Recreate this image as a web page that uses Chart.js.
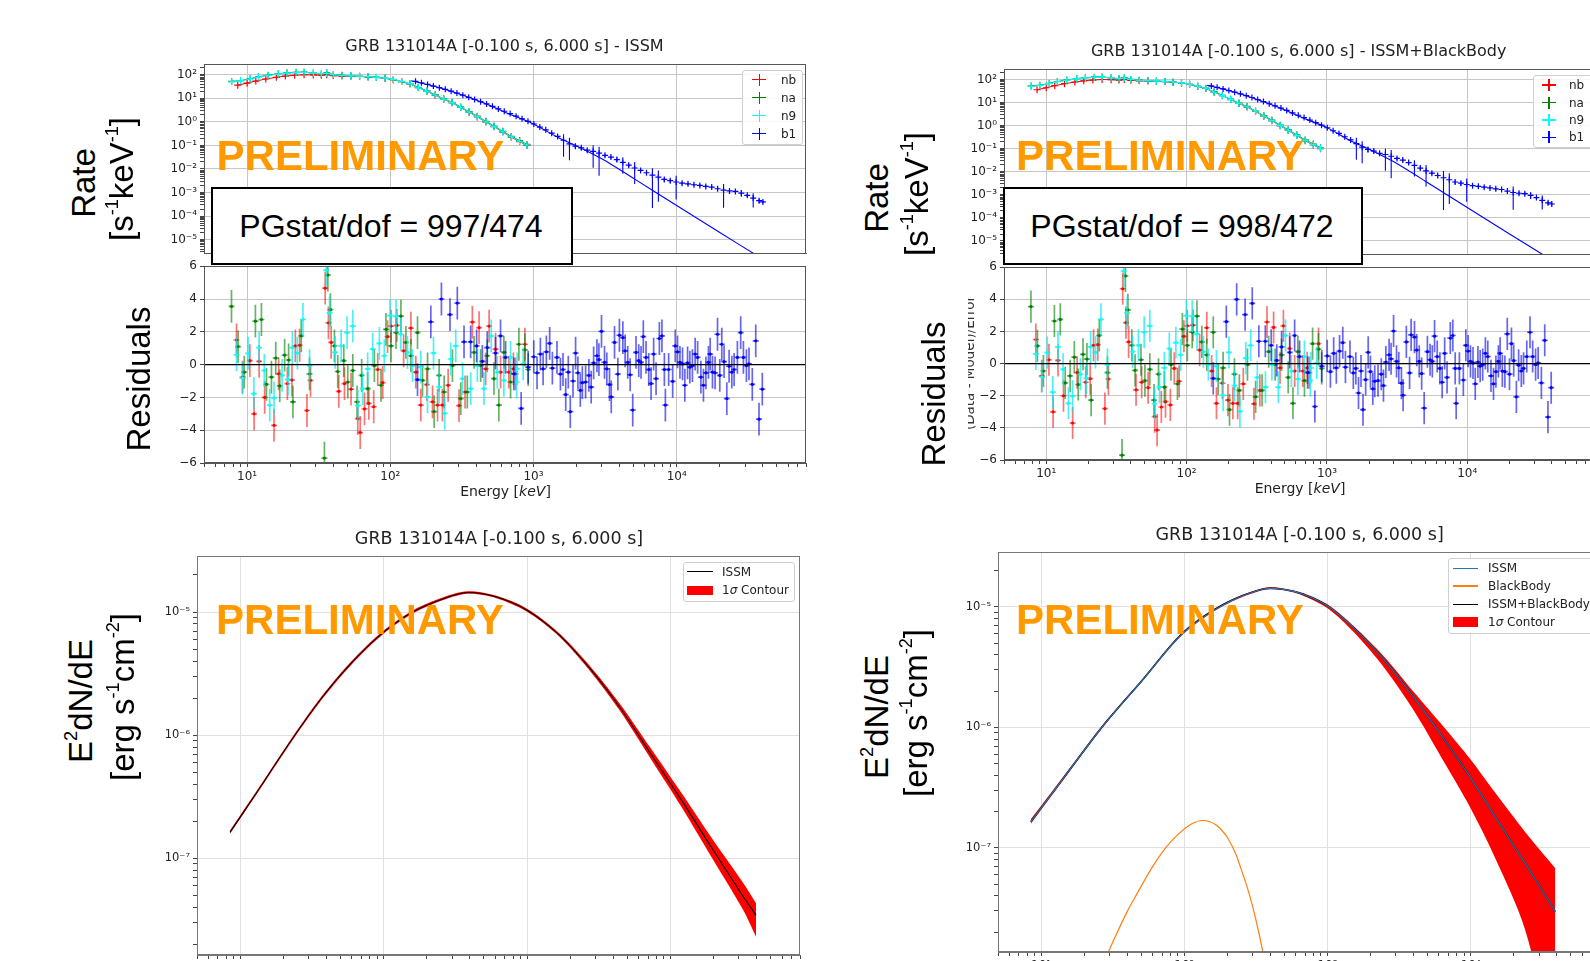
<!DOCTYPE html>
<html><head><meta charset="utf-8">
<script src="https://cdn.jsdelivr.net/npm/chart.js"></script>
<style>
html,body{margin:0;padding:0;width:1590px;height:961px;overflow:hidden;background:#fff;position:relative;}
.lbl{position:absolute;white-space:nowrap;line-height:1;color:#000;}
.lbl sup{font-size:0.55em;position:relative;top:-0.8em;vertical-align:baseline;line-height:0;}
.box{position:absolute;box-sizing:border-box;}
</style></head><body>
<script>
// ---------------- DATA ----------------
const energyRange = [5, 80000];
const energyTicks = [10, 100, 1000, 10000];
const energyTickLabels = ['10¹', '10²', '10³', '10⁴'];
const rateRange = [2.51e-6, 280];
const rateTicks = [1e-5, 1e-4, 1e-3, 1e-2, 1e-1, 1, 10, 100];
const rateTickLabels = ['10⁻⁵', '10⁻⁴', '10⁻³', '10⁻²', '10⁻¹', '10⁰', '10¹', '10²'];
const residTicks = [-6, -4, -2, 0, 2, 4, 6];
const residTickLabels = ['−6', '−4', '−2', '0', '2', '4', '6'];
const residErr = 1;
const fluxTicks = [1e-7, 1e-6, 1e-5];
const fluxTickLabels = ['10⁻⁷', '10⁻⁶', '10⁻⁵'];
const fluxRangeL = [1.64e-8, 2.85e-5];
const fluxRangeR = [1.37e-8, 2.86e-5];

// count rates (NaI detectors)
const naiE = [7.8, 9, 10.5, 12, 14, 16.5, 19, 22, 25, 29, 33, 36, 40, 46, 53, 61, 70, 80, 92, 105, 120, 137, 157, 180, 206, 236, 270, 310, 355, 405, 465, 530, 610, 700, 800, 900];
const n9Rate = [50, 55, 66, 80, 93, 107, 117, 123, 126, 117, 110, 115, 100, 93, 89, 87, 83, 78, 72, 63, 52, 42, 28, 20, 13.8, 9.3, 6.6, 4.2, 2.6, 1.66, 1.0, 0.63, 0.38, 0.23, 0.15, 0.105];
const naRate = [52, 56, 68, 82, 95, 110, 120, 126, 128, 118, 108, 120, 101, 94, 90, 86, 82, 77, 71, 62, 51, 41, 29, 20.5, 14, 9.5, 6.8, 4.3, 2.7, 1.75, 1.05, 0.66, 0.4, 0.24, 0.16, 0.11];
const nbE = [8.6, 10, 11.5, 13.5, 16, 18.5, 21.5, 25, 29, 33, 36, 40, 46, 53, 61, 70, 80, 92, 105, 120, 137, 157, 180, 206, 236, 270, 310, 355, 405, 465, 530, 610, 700, 800, 900];
const nbRate = [36, 44, 54, 66, 78, 88, 95, 100, 98, 95, 100, 92, 88, 86, 84, 81, 77, 71, 62, 51, 41, 28.5, 20, 13.5, 9.1, 6.4, 4.1, 2.55, 1.62, 0.98, 0.62, 0.37, 0.22, 0.145, 0.1];
// count rates (BGO b1)
const b1E = [150, 165, 182, 200, 220, 242, 266, 292, 321, 353, 388, 427, 470, 517, 568, 625, 687, 756, 832, 915, 1006, 1107, 1218, 1340, 1474, 1621, 1783, 1961, 2157, 2373, 2610, 2871, 3158, 3474, 3822, 4204, 4624, 5087, 5596, 6155, 6771, 7448, 8193, 9012, 9913, 10905, 11995, 13195, 14514, 15966, 17562, 19318, 21250, 23375, 25713, 28284, 31112, 34224, 37646, 40000];
const b1Rate = [52.5, 45.7, 38.9, 33.1, 28.2, 24.0, 20.0, 16.6, 13.5, 11.0, 8.9, 7.2, 5.75, 4.57, 3.55, 2.82, 2.24, 1.74, 1.35, 1.05, 0.81, 0.60, 0.46, 0.33, 0.24, 0.166, 0.117, 0.093, 0.079, 0.063, 0.056, 0.047, 0.038, 0.032, 0.025, 0.019, 0.0145, 0.011, 0.0087, 0.0069, 0.0055, 0.0045, 0.0036, 0.0032, 0.0028, 0.0025, 0.00234, 0.00214, 0.0020, 0.00182, 0.0017, 0.00145, 0.00126, 0.00117, 0.00112, 0.00095, 0.00076, 0.00058, 0.00045, 0.0004];
const b1RelErr = [0.03, 0.03, 0.03, 0.03, 0.03, 0.03, 0.03, 0.03, 0.03, 0.03, 0.04, 0.04, 0.04, 0.04, 0.04, 0.05, 0.05, 0.05, 0.06, 0.06, 0.07, 0.08, 0.08, 0.1, 0.12, 0.8, 0.8, 0.25, 0.2, 0.15, 0.8, 0.89, 0.15, 0.15, 0.2, 0.67, 0.2, 0.79, 0.15, 0.2, 0.96, 0.91, 0.2, 0.2, 0.82, 0.15, 0.15, 0.12, 0.12, 0.15, 0.12, 0.15, 0.82, 0.15, 0.15, 0.3, 0.15, 0.6, 0.2, 0.15];
const b1ModelE = [140, 200, 300, 450, 700, 1000, 1500, 2000, 3000, 5000, 10000, 20000, 36000];
const b1Model = [56, 33.1, 15.5, 6.3, 2.0, 0.82, 0.21, 0.095, 0.027, 0.004, 0.00028, 2.0e-5, 2.2e-6];

// residuals (Data - Model)/Error
const nbResE = [8.43, 9.29, 10.45, 11.19, 12.13, 13.27, 15.42, 16.6, 19.1, 20.56, 21.73, 23.28, 26.18, 27.73, 35.08, 36.98, 38.64, 43.65, 47.86, 53.21, 59.29, 61.66, 66.07, 70.8, 76.6, 81.7, 88.5, 95.7, 101.2, 111.2, 123.9, 139.3, 150.7, 163.3, 179.9, 197.2, 213.8, 231.2, 253.5, 302, 332.7, 374.1, 416.9, 463.4, 489.8, 543.3, 588.8, 673, 724, 749.9, 871];
const nbRes = [1.5, -0.76, 0.24, -3.0, 0.2, -2.0, -3.7, -0.56, -1.16, -0.94, 1.14, 1.18, -2.8, -0.96, 4.66, 2.55, 1.35, -1.63, -1.16, -1.5, -3.3, -4.14, -2.7, -2.37, -2.57, -0.3, -1.1, 1.7, 2.35, 2.39, 0.84, 2.23, -0.46, -2.47, -1.22, -2.27, -2.47, -2.47, -1.26, -2.5, -1.67, 2.59, 2.25, -0.26, 2.35, 0.94, -0.46, -0.46, -0.26, -0.56, 1.24];
const naResE = [7.78, 8.65, 9.55, 11.43, 12.59, 13.65, 14.79, 15.85, 16.9, 18.28, 19.5, 20.89, 23.88, 27.29, 34.67, 36.64, 38.19, 40.74, 42.95, 47.32, 50.47, 54.7, 58.61, 63.1, 69.5, 77.4, 86.1, 93.3, 101.2, 109.6, 118.6, 128.5, 139.3, 154.9, 167.9, 182, 202.3, 219.3, 237.7, 271.6, 310.5, 345.1, 384.6, 427.6, 475.3, 529.7, 572.8, 620.9, 691.8, 790.7, 871, 918];
const naRes = [3.55, 1.1, -0.46, 2.65, 2.75, -1.2, -0.76, 0.4, -1.3, 0.58, 0.28, -2.27, 1.75, -0.56, -5.7, 5.46, 3.35, 1.14, -0.42, 0.24, -1.06, -0.36, -2.27, -0.66, -1.47, -0.06, -1.26, 2.15, 1.14, 1.95, 2.95, 1.35, 0.54, 1.95, -0.96, -0.26, -2.87, -0.66, -1.67, -0.06, -2.07, -1.67, 0.74, -0.06, 0.54, -0.86, -2.47, 0.74, -1.06, 1.24, 0.9, -0.3];
const n9ResE = [8.43, 9.29, 10.16, 11.14, 12.13, 13.18, 14.39, 15.42, 17.54, 19.32, 20.7, 22.44, 24.55, 27.29, 35.65, 37.67, 41.21, 45.39, 49.89, 54.7, 59.29, 64.12, 69.5, 75.3, 83.9, 90.8, 99.5, 109.6, 118.6, 131.8, 142.9, 163.3, 182, 200.4, 219.3, 239.9, 264.2, 286.4, 319.2, 364.8, 405.5, 450.8, 507, 558.5, 620.9, 691.8, 762, 769.1, 847];
const n9Res = [0.6, -0.82, 0.68, -1.77, 1.04, -0.36, -2.47, -2.03, -0.66, -0.9, 1.04, 0.7, 2.75, -0.06, 5.76, 3.15, 0.74, 1.14, 1.95, 2.35, -2.5, -1.47, -0.26, 0.94, 1.3, 0.54, 2.99, 2.95, 1.85, 0.74, -0.06, -0.16, -1.97, 0.7, -1.37, -2.97, 0.34, 1.14, -0.86, -1.47, -0.06, -1.47, 1.75, -0.46, -0.96, 0.44, -1.06, -0.26, 0.04];
const b1ResE = [154.9, 191.9, 227.5, 261.2, 293.8, 327.3, 363.9, 400.9, 439.5, 475.3, 543.3, 588.8, 638.3, 729.5, 820.4, 918.3, 1004.6, 1059, 1117, 1167, 1230, 1297, 1355, 1459, 1542, 1607, 1679, 1750, 1807, 1888, 1968, 2042, 2123, 2193, 2312, 2438, 2529, 2630, 2773, 2864, 2985, 3133, 3251, 3396, 3491, 3681, 3882, 3981, 4207, 4365, 4550, 4732, 4932, 5200, 5433, 5636, 5848, 6109, 6383, 6622, 6902, 7178, 7568, 7889, 8204, 8337, 8790, 9376, 9772, 10140, 10540, 10990, 11400, 11910, 12360, 12880, 13460, 14000, 14760, 15380, 16000, 16670, 17140, 17780, 18540, 19280, 20000, 20650, 21430, 22390, 23230, 24270, 25180, 26550, 27990, 29240, 30690, 31990, 33730, 35650, 37580, 39630];
const b1Res = [-0.92, 2.61, 4.0, 3.05, 3.75, 1.39, 1.39, 1.14, 0.2, 1.04, 0.7, 1.75, 0.44, -0.56, -2.67, -0.16, 0.48, -0.5, 0.64, -0.26, 0.78, 1.3, -0.22, 0.44, -0.58, -0.3, -1.83, -0.46, -2.87, -1.0, 0.7, -0.5, -1.57, -1.1, -1.06, -0.66, -1.37, 0.1, 0.54, 0.3, 2.03, 0.14, -0.26, -1.22, -1.97, 1.35, -0.58, 1.79, 1.65, 0.84, 0.14, -0.62, -2.77, 0.74, 0.24, 0.14, 1.71, 0.44, -0.3, -1.16, 0.64, -0.86, 1.59, 1.75, -0.3, -2.47, -0.3, -1.02, 1.14, 0.78, 0.14, 0.04, -1.26, 0.1, -0.16, -0.06, 0.64, 0.44, -0.76, -1.26, -0.5, 0.14, 0.64, -0.46, -0.5, 1.85, -0.66, 1.24, 0.18, -2.07, -0.1, -0.46, -0.3, 0.44, 1.95, 0.44, -0.06, 0.04, -1.2, 1.45, -3.33, -1.5];

// nuFnu spectra (E^2 dN/dE)
const issmE = [8.5, 13.4, 22.0, 36.1, 59.4, 97.7, 160.7, 264, 384, 604, 993, 1633, 2679, 4406, 7244, 11910, 19540, 32140, 39540];
const issmFlux = [1.63e-7, 3.59e-7, 8.59e-7, 1.93e-6, 3.84e-6, 6.71e-6, 1.005e-5, 1.29e-5, 1.44e-5, 1.33e-5, 1.04e-5, 6.71e-6, 3.60e-6, 1.70e-6, 7.13e-7, 2.98e-7, 1.2e-7, 4.9e-8, 3.45e-8];
const issmLo = [1.58e-7, 3.48e-7, 8.33e-7, 1.87e-6, 3.72e-6, 6.51e-6, 9.75e-6, 1.255e-5, 1.405e-5, 1.30e-5, 1.01e-5, 6.50e-6, 3.45e-6, 1.60e-6, 6.50e-7, 2.62e-7, 1.0e-7, 3.8e-8, 2.3e-8];
const issmHi = [1.68e-7, 3.70e-7, 8.85e-7, 1.99e-6, 3.96e-6, 6.91e-6, 1.035e-5, 1.325e-5, 1.475e-5, 1.36e-5, 1.07e-5, 6.93e-6, 3.77e-6, 1.82e-6, 7.9e-7, 3.4e-7, 1.44e-7, 6.3e-8, 4.3e-8];
const bbModelE = [8.47, 14.0, 26.8, 51.2, 97.7, 187, 357, 493, 682, 1023, 1535, 2495, 4046, 6577, 9863, 14790, 23990, 38990];
const bbIssmFlux = [1.65e-7, 3.66e-7, 1.016e-6, 2.48e-6, 6.05e-6, 1.04e-5, 1.41e-5, 1.40e-5, 1.27e-5, 1.005e-5, 6.65e-6, 3.63e-6, 1.75e-6, 7.87e-7, 3.91e-7, 1.82e-7, 7.46e-8, 2.96e-8];
const bbTotalFlux = [1.65e-7, 3.66e-7, 1.02e-6, 2.49e-6, 6.1e-6, 1.05e-5, 1.412e-5, 1.40e-5, 1.27e-5, 1.005e-5, 6.65e-6, 3.63e-6, 1.75e-6, 7.87e-7, 3.91e-7, 1.82e-7, 7.46e-8, 2.96e-8];
const bbLo = [1.58e-7, 3.54e-7, 0.99e-6, 2.43e-6, 5.91e-6, 1.02e-5, 1.385e-5, 1.375e-5, 1.235e-5, 0.96e-5, 6.13e-6, 3.12e-6, 1.36e-6, 5.08e-7, 2.2e-7, 8.3e-8, 2.1e-8, 1.9e-9];
const bbHi = [1.73e-7, 3.79e-7, 1.045e-6, 2.54e-6, 6.19e-6, 1.06e-5, 1.435e-5, 1.425e-5, 1.30e-5, 1.033e-5, 6.88e-6, 3.85e-6, 1.94e-6, 9.9e-7, 5.52e-7, 2.88e-7, 1.36e-7, 6.8e-8];
const blackBodyE = [28.2, 30.2, 39.8, 45, 60.1, 75, 90.2, 112, 135, 166, 180, 202, 230, 257, 285, 316, 357, 398];
const blackBodyFlux = [1.22e-8, 1.46e-8, 2.95e-8, 3.85e-8, 7.0e-8, 1.02e-7, 1.29e-7, 1.58e-7, 1.69e-7, 1.56e-7, 1.43e-7, 1.2e-7, 8.8e-8, 6.0e-8, 4.1e-8, 2.55e-8, 1.3e-8, 6.3e-9];

// ---------------- STYLE / HELPERS ----------------
Chart.defaults.font.family = "'DejaVu Sans', 'Liberation Sans', sans-serif";
Chart.defaults.font.size = 12;
Chart.defaults.color = '#222';
const gridTop = '#c6c6c6', gridBot = '#e0e0e0';
const COL = {nb: '#ff0000', na: '#008000', n9: '#00ffff', b1: '#0000ff'};
const BAR = {nb: 'rgba(255,0,0,0.55)', na: 'rgba(0,128,0,0.6)', n9: 'rgba(0,235,235,0.7)', b1: 'rgba(0,0,230,0.6)'};

const xy = (xs, ys) => xs.map((x, i) => ({x: x, y: ys[i]})).filter(p => p.y !== undefined);

function logTickList(min, max) {
  const out = [];
  for (let e = Math.floor(Math.log10(min)); e <= Math.ceil(Math.log10(max)); e++) {
    for (let m = 1; m < 10; m++) {
      const v = m * Math.pow(10, e);
      if (v >= min && v <= max) out.push({value: v, major: m === 1});
    }
  }
  return out;
}
function logAxis(range, majors, labels, o) {
  return {
    type: 'logarithmic', min: range[0], max: range[1],
    afterBuildTicks: s => { s.ticks = logTickList(range[0], range[1]); },
    ticks: {
      display: o.labels !== false, autoSkip: false, maxRotation: 0, padding: 3,
      font: {size: o.fontSize || 12},
      callback: (v, i, ts) => {
        if (!ts[i] || !ts[i].major) return '';
        const k = majors.findIndex(m => Math.abs(Math.log10(m) - Math.log10(v)) < 1e-6);
        return k >= 0 ? labels[k] : '';
      }
    },
    grid: {
      color: c => (c.tick && c.tick.major) ? o.grid : 'rgba(0,0,0,0)',
      tickColor: '#444', tickLength: 4, drawTicks: o.drawTicks !== false, lineWidth: 1
    },
    border: {display: true, color: o.border || '#555'}
  };
}
function residAxis() {
  return {
    type: 'linear', min: -6, max: 6,
    afterBuildTicks: s => { s.ticks = residTicks.map(v => ({value: v})); },
    ticks: {padding: 3, callback: v => { const k = residTicks.indexOf(v); return k >= 0 ? residTickLabels[k] : ''; }},
    grid: {color: gridTop, tickColor: '#444', tickLength: 4, lineWidth: 1},
    border: {display: true, color: '#555'}
  };
}

const errBarPlugin = {
  id: 'errBars',
  beforeDatasetDraw(chart, args) {
    const ds = chart.data.datasets[args.index];
    if (ds.err === undefined) return;
    const xs = chart.scales.x, ys = chart.scales.y, a = chart.chartArea, ctx = chart.ctx;
    ctx.save();
    ctx.beginPath(); ctx.rect(a.left, a.top, a.right - a.left, a.bottom - a.top); ctx.clip();
    ctx.strokeStyle = ds.errColor; ctx.lineWidth = ds.errWidth || 1.2;
    ds.data.forEach((p, i) => {
      const e = Array.isArray(ds.err) ? ds.err[i] : ds.err;
      const x = xs.getPixelForValue(p.x);
      const lo = p.y - e, hi = p.y + e;
      const yLo = (ys.type === 'logarithmic' && lo <= 0) ? a.bottom + 5 : ys.getPixelForValue(lo);
      const yHi = ys.getPixelForValue(hi);
      ctx.beginPath();
      ctx.moveTo(x, yLo); ctx.lineTo(x, yHi);
      if (ds.capHalf) { const y = ys.getPixelForValue(p.y); ctx.moveTo(x - ds.capHalf, y); ctx.lineTo(x + ds.capHalf, y); }
      ctx.stroke();
    });
    ctx.restore();
  }
};
function framePlugin(color) {
  return { id: 'frame', afterDraw(chart) {
    const a = chart.chartArea, ctx = chart.ctx;
    ctx.save(); ctx.strokeStyle = color; ctx.lineWidth = 1;
    ctx.strokeRect(Math.round(a.left) + 0.5, Math.round(a.top) + 0.5, Math.round(a.right - a.left) - 1, Math.round(a.bottom - a.top) - 1);
    ctx.restore();
  }};
}
const zeroLinePlugin = { id: 'zeroLine', afterDatasetsDraw(chart) {
  const y = chart.scales.y.getPixelForValue(0), a = chart.chartArea, ctx = chart.ctx;
  ctx.save(); ctx.strokeStyle = '#000'; ctx.lineWidth = 1.3;
  ctx.beginPath(); ctx.moveTo(a.left, y); ctx.lineTo(a.right, y); ctx.stroke(); ctx.restore();
}};

function makeChart(plot, m, datasets, scales, plugins) {
  const w = plot.r - plot.l + m.l + m.r, h = plot.b - plot.t + m.t + m.b;
  const c = document.createElement('canvas');
  c.width = w; c.height = h;
  c.style.cssText = 'position:absolute;left:' + (plot.l - m.l) + 'px;top:' + (plot.t - m.t) + 'px;width:' + w + 'px;height:' + h + 'px;';
  document.body.appendChild(c);
  scales.x.afterFit = s => { s.height = m.b; };
  scales.y.afterFit = s => { s.width = m.l; };
  return new Chart(c, {
    type: 'line',
    data: {datasets: datasets},
    options: {
      responsive: false, animation: false, devicePixelRatio: 1,
      layout: {autoPadding: false, padding: {left: 0, top: m.t, right: m.r, bottom: 0}},
      plugins: {legend: {display: false}, tooltip: {enabled: false}},
      scales: scales
    },
    plugins: [errBarPlugin].concat(plugins || [])
  });
}

function rateDatasets() {
  const nai = (E, V, col) => ({data: xy(E, V), showLine: true, borderColor: col, borderWidth: 1,
    pointStyle: 'cross', pointRadius: 3.5, pointBorderColor: col, pointBorderWidth: 1.2, pointBackgroundColor: col});
  return [
    {data: xy(b1E, b1Rate), showLine: false, borderColor: COL.b1, pointStyle: 'cross', pointRadius: 3,
      pointBorderColor: COL.b1, pointBorderWidth: 1.2, err: b1Rate.map((v, i) => v * b1RelErr[i]), errColor: COL.b1, errWidth: 1.1},
    {data: xy(b1ModelE, b1Model), borderColor: COL.b1, borderWidth: 1.1, pointRadius: 0, tension: 0.2},
    nai(naiE, n9Rate, COL.n9),
    nai(naiE, naRate, COL.na),
    nai(nbE, nbRate, COL.nb)
  ];
}
function residDatasets() {
  const r = (E, R, k) => ({data: xy(E, R), showLine: false, pointStyle: 'circle', pointRadius: 1.6,
    pointBackgroundColor: COL[k], pointBorderWidth: 0, borderColor: COL[k], err: residErr, errColor: BAR[k], errWidth: 1.7, capHalf: 3});
  return [r(b1ResE, b1Res, 'b1'), r(n9ResE, n9Res, 'n9'), r(naResE, naRes, 'na'), r(nbResE, nbRes, 'nb')];
}

function topPanel(L, T, MID, B, R) {
  makeChart({l: L, t: T, r: R, b: MID}, {l: 70, t: 10, r: 6, b: 0}, rateDatasets(), {
    x: logAxis(energyRange, energyTicks, energyTickLabels, {labels: false, grid: gridTop, drawTicks: false}),
    y: logAxis(rateRange, rateTicks, rateTickLabels, {grid: gridTop})
  }, [framePlugin('#555')]);
  makeChart({l: L, t: MID, r: R, b: B}, {l: 70, t: 8, r: 6, b: 40}, residDatasets(), {
    x: logAxis(energyRange, energyTicks, energyTickLabels, {grid: gridTop}),
    y: residAxis()
  }, [zeroLinePlugin, framePlugin('#555')]);
}
function bandDatasets(E, lo, hi) {
  return [
    {data: xy(E, lo), borderWidth: 0, pointRadius: 0, tension: 0.3, fill: false},
    {data: xy(E, hi), borderWidth: 0, pointRadius: 0, tension: 0.3, fill: '-1', backgroundColor: '#ff0000'}
  ];
}

// ---------------- CHARTS ----------------
topPanel(204, 64, 264, 463, 806);
topPanel(1004, 69, 265, 460, 1594);

makeChart({l: 197, t: 556, r: 800, b: 955}, {l: 70, t: 10, r: 6, b: 30},
  [{data: xy(issmE, issmFlux), borderColor: '#000', borderWidth: 1.1, pointRadius: 0, tension: 0.3}].concat(bandDatasets(issmE, issmLo, issmHi)),
  {x: logAxis(energyRange, energyTicks, energyTickLabels, {grid: gridBot, border: '#777'}),
   y: logAxis(fluxRangeL, fluxTicks, fluxTickLabels, {grid: gridBot, border: '#777', fontSize: 11.5})},
  [framePlugin('#777')]);

makeChart({l: 998, t: 552, r: 1600, b: 952}, {l: 70, t: 10, r: 6, b: 30},
  [{data: xy(bbModelE, bbIssmFlux), borderColor: '#1f77b4', borderWidth: 1.2, pointRadius: 0, tension: 0.3},
   {data: xy(bbModelE, bbTotalFlux), borderColor: '#000', borderWidth: 1.4, pointRadius: 0, tension: 0.3},
   {data: xy(blackBodyE, blackBodyFlux), borderColor: '#ff7f0e', borderWidth: 1.2, pointRadius: 0, cubicInterpolationMode: 'monotone'}
  ].concat(bandDatasets(bbModelE, bbLo, bbHi)),
  {x: logAxis(energyRange, energyTicks, energyTickLabels, {grid: gridBot, border: '#777'}),
   y: logAxis(fluxRangeR, fluxTicks, fluxTickLabels, {grid: gridBot, border: '#777', fontSize: 11.5})},
  [framePlugin('#777')]);

// ---------------- TEXT / OVERLAYS ----------------
function txt(html, cx, cy, font, opt) {
  opt = opt || {};
  const d = document.createElement('div');
  d.className = 'lbl';
  d.innerHTML = html;
  d.style.font = font;
  if (opt.color) d.style.color = opt.color;
  d.style.left = cx + 'px'; d.style.top = cy + 'px';
  d.style.transform = 'translate(-50%,-50%)' + (opt.rot ? ' rotate(-90deg)' : '');
  document.body.appendChild(d);
  return d;
}
function rect(l, t, w, h, css) {
  const d = document.createElement('div');
  d.className = 'box';
  d.style.cssText += 'left:' + l + 'px;top:' + t + 'px;width:' + w + 'px;height:' + h + 'px;' + (css || '');
  document.body.appendChild(d);
  return d;
}
const DJ = "'DejaVu Sans', sans-serif", AR = "'Liberation Sans', Arial, sans-serif";
const BIG = '33px ' + AR;

// titles
txt('GRB 131014A [-0.100 s, 6.000 s] - ISSM', 504.5, 45, '16px ' + DJ, {color: '#222'});
txt('GRB 131014A [-0.100 s, 6.000 s] - ISSM+BlackBody', 1298.7, 50, '16px ' + DJ, {color: '#222'});
txt('GRB 131014A [-0.100 s, 6.000 s]', 499, 537.5, '17.5px ' + DJ, {color: '#222'});
txt('GRB 131014A [-0.100 s, 6.000 s]', 1299.6, 534, '17.5px ' + DJ, {color: '#222'});
// x labels
txt('Energy [<i>keV</i>]', 505.5, 491, '14px ' + DJ, {color: '#222'});
txt('Energy [<i>keV</i>]', 1300, 488, '14px ' + DJ, {color: '#222'});
// partly hidden residual label (right panel)
txt('(Data - Model)/Error', 969, 362.5, '13.5px ' + DJ, {rot: true, color: '#333'});
rect(948, 280, 19.5, 165, 'background:#fff;');
// y labels
txt('Rate', 84, 182.5, BIG, {rot: true});
txt('[s<sup>-1</sup>keV<sup>-1</sup>]', 122, 178.5, BIG, {rot: true});
txt('Residuals', 139, 378.5, BIG, {rot: true});
txt('Rate', 877, 197.5, BIG, {rot: true});
txt('[s<sup>-1</sup>keV<sup>-1</sup>]', 917, 193.5, BIG, {rot: true});
txt('Residuals', 933.5, 394, BIG, {rot: true});
txt('E<sup>2</sup>dN/dE', 81, 701, BIG, {rot: true});
txt('[erg s<sup>-1</sup>cm<sup>-2</sup>]', 123, 696.5, BIG, {rot: true});
txt('E<sup>2</sup>dN/dE', 877, 717, BIG, {rot: true});
txt('[erg s<sup>-1</sup>cm<sup>-2</sup>]', 916, 713, BIG, {rot: true});
// stat boxes
rect(211, 187, 362, 78, 'border:2.5px solid #000;background:#fff;');
txt('PGstat/dof = 997/474', 391, 226, '32px ' + AR);
rect(1003, 187, 360, 78, 'border:2.5px solid #000;background:#fff;');
txt('PGstat/dof = 998/472', 1182, 226, '32px ' + AR);
// PRELIMINARY
const PRE = 'bold 42px ' + AR;
txt('PRELIMINARY', 360.5, 156, PRE, {color: '#ff9900'});
txt('PRELIMINARY', 1160, 156, PRE, {color: '#ff9900'});
txt('PRELIMINARY', 360, 620, PRE, {color: '#ff9900'});
txt('PRELIMINARY', 1160, 620, PRE, {color: '#ff9900'});

// legends
const LEG = '12px ' + DJ;
function legFrame(l, t, w, h) { rect(l, t, w, h, 'border:1px solid #d0d0d0;border-radius:3px;background:rgba(255,255,255,0.85);'); }
function legCross(cx, cy, col) {
  rect(cx - 7, cy - 0.75, 14, 1.5, 'background:' + col + ';');
  rect(cx - 0.75, cy - 6, 1.5, 12, 'background:' + col + ';');
}
function legLine(x1, x2, cy, col) { rect(x1, cy - 0.75, x2 - x1, 1.5, 'background:' + col + ';'); }
function legText(s, x, cy) { const d = txt(s, x, cy, LEG, {color: '#222'}); d.style.transform = 'translate(0,-50%)'; }

const detNames = ['nb', 'na', 'n9', 'b1'];
legFrame(742, 70, 61, 75);
[79.7, 97.7, 115.7, 133.7].forEach((y, i) => { legCross(759.3, y, COL[detNames[i]]); legText(detNames[i], 781, y); });
legFrame(1533, 75, 70, 73);
[85, 102.7, 120, 137.3].forEach((y, i) => { legCross(1549, y, COL[detNames[i]]); legText(detNames[i], 1569, y); });

legFrame(683, 562, 112, 40);
legLine(687, 713, 571.7, '#000'); legText('ISSM', 722, 571.7);
rect(687, 585.7, 26, 9.5, 'background:#ff0000;'); legText('1<i>σ</i> Contour', 722, 590.3);

legFrame(1448, 558, 160, 76);
legLine(1453, 1478, 568.3, '#1f77b4'); legText('ISSM', 1488, 568.3);
legLine(1453, 1478, 586, '#ff7f0e'); legText('BlackBody', 1488, 586);
legLine(1453, 1478, 604.3, '#000'); legText('ISSM+BlackBody', 1488, 604.3);
rect(1453, 616.7, 25, 10, 'background:#ff0000;'); legText('1<i>σ</i> Contour', 1488, 621.7);
</script>
</body></html>
